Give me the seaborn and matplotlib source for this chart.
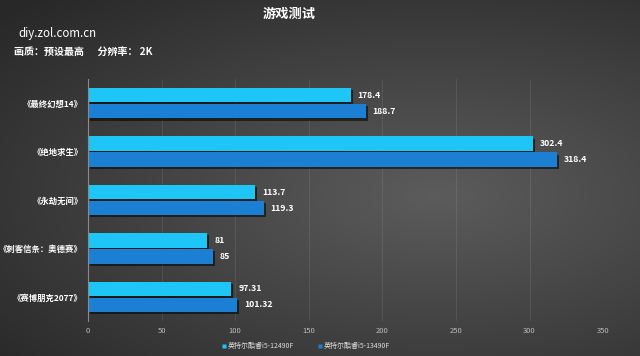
import numpy as np
import pandas as pd
import matplotlib
matplotlib.use("Agg")
import matplotlib.pyplot as plt
import matplotlib.patheffects as pe
from matplotlib.lines import Line2D
import seaborn as sns

games = ['《最终幻想14》', '《绝地求生》', '《永劫无间》', '《刺客信条：奥德赛》', '《赛博朋克2077》']
cpu_names = ['英特尔酷睿i5-12490F', '英特尔酷睿i5-13490F']
fps_12490f = [178.4, 302.4, 113.7, 81, 97.31]
fps_13490f = [188.7, 318.4, 119.3, 85, 101.32]
x_ticks = [0, 50, 100, 150, 200, 250, 300, 350]

colors = ['#1ec6f7', '#1b7fd3']

df = pd.DataFrame({
    'game': games * 2,
    'cpu': [cpu_names[0]] * len(games) + [cpu_names[1]] * len(games),
    'fps': fps_12490f + fps_13490f,
})

sns.set_style("white")
plt.rcParams['font.family'] = ['Noto Sans CJK SC', 'DejaVu Sans']

fig = plt.figure(figsize=(6.4, 3.56), dpi=100)

# dark radial-ish gradient background
bg = fig.add_axes([0, 0, 1, 1], zorder=-10)
yy, xx = np.mgrid[0:1:200j, 0:1:360j]
d = np.sqrt(((xx - 0.68) / 0.9) ** 2 + ((yy - 0.55) / 0.75) ** 2)
shade = np.clip(0.36 - 0.2 * d, 0.16, 0.36)
bg.imshow(np.dstack([shade] * 3), aspect='auto', extent=[0, 1, 0, 1])
bg.axis('off')

ax = fig.add_axes([0.1375, 0.098, 0.805, 0.68])
ax.set_facecolor('none')

sns.barplot(data=df, y='game', x='fps', hue='cpu', palette=colors,
            width=0.66, gap=0.1, orient='h', ax=ax, legend=False,
            edgecolor='none', saturation=1)

shadow = [pe.SimplePatchShadow(offset=(1.5, -1.5), shadow_rgbFace='black', alpha=0.55), pe.Normal()]
for p in ax.patches:
    p.set_path_effects(shadow)

for cont in ax.containers:
    ax.bar_label(cont, fmt='%g', padding=5, color='white', fontsize=6.3, fontweight='bold')

ax.set_xlim(0, 350)
ax.set_ylim(len(games) - 0.5, -0.5)
ax.set_xticks(x_ticks)
ax.tick_params(axis='x', colors='#bbbbbb', labelsize=5.5, length=0, pad=4)
ax.tick_params(axis='y', colors='white', labelsize=6, length=0, pad=4)
for lbl in ax.get_yticklabels():
    lbl.set_fontweight('bold')
ax.xaxis.grid(True, color='white', alpha=0.09, linewidth=0.7)
ax.set_axisbelow(True)
ax.set_xlabel('')
ax.set_ylabel('')
for s in ['top', 'right', 'bottom']:
    ax.spines[s].set_visible(False)
ax.spines['left'].set_color('#8a8a8a')
ax.spines['left'].set_linewidth(0.8)

fig.text(0.452, 0.962, '游戏测试', color='white', fontsize=9.5, fontweight='bold', ha='center', va='center')
fig.text(0.028, 0.905, 'diy.zol.com.cn', color='white', fontsize=8.3, ha='left', va='center')
fig.text(0.022, 0.853, '画质：预设最高      分辨率： 2K', color='white', fontsize=7.2, fontweight='bold',
         ha='left', va='center')

handles = [Line2D([0], [0], marker='s', linestyle='none', markersize=3,
                  markerfacecolor=c, markeredgecolor='none') for c in colors]
fig.legend(handles, cpu_names, loc='center', bbox_to_anchor=(0.478, 0.028), ncol=2,
           frameon=False, fontsize=5, labelcolor='#dddddd', handlelength=0.6,
           handletextpad=0.2, columnspacing=3.5)

fig.savefig('out.png', dpi=100)
